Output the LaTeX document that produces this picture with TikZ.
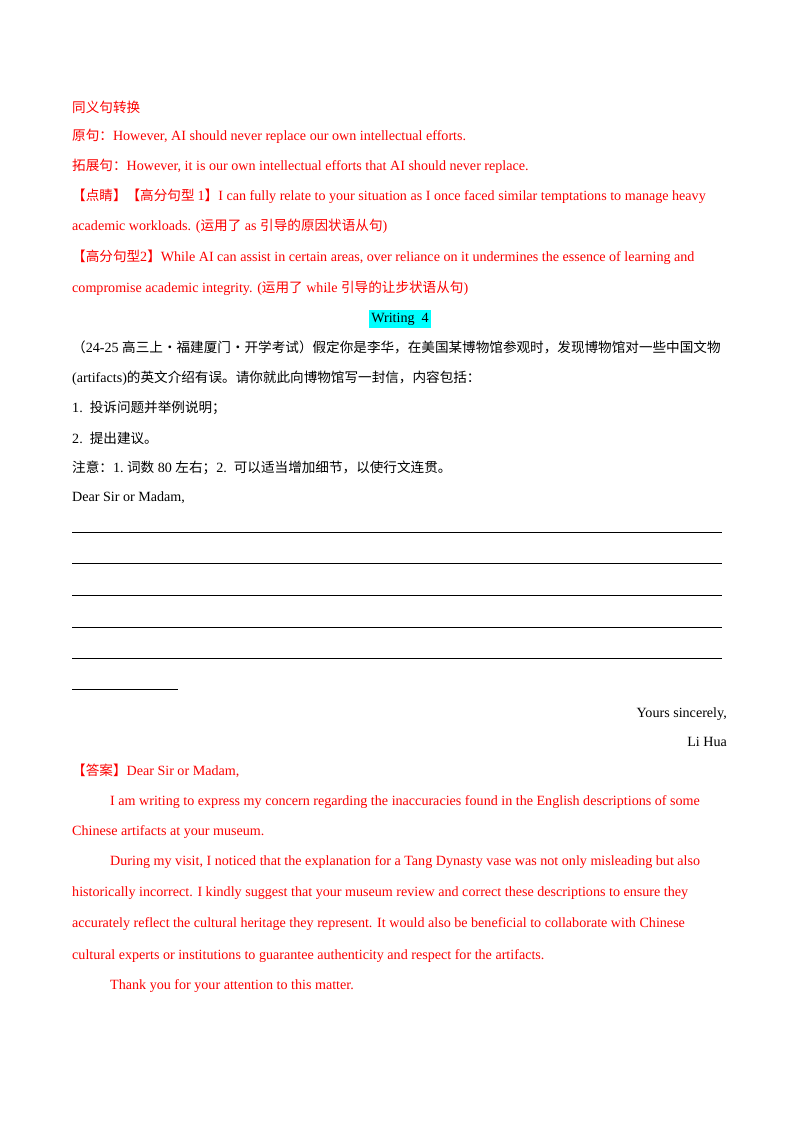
\documentclass[tikz,border=0pt]{standalone}
\usepackage{fontspec}
\setmainfont{Liberation Serif}
\newfontfamily\cjk{Noto Sans CJK SC}
\definecolor{rd}{RGB}{250,0,0}
\definecolor{hl}{RGB}{0,255,255}
\newcommand{\zh}[1]{{\cjk\fontsize{13.6}{15}\selectfont #1}}
\begin{document}
\begin{tikzpicture}[x=1pt,y=-1pt,
  t/.style={anchor=base west,inner sep=0pt,font=\fontsize{14.1}{16}\selectfont},
  r/.style={t,text=rd},
  ln/.style={line width=0.6pt}]
\useasboundingbox (0,0) rectangle (800,1132);
\node[r] (a1) at (72,112) {\zh{同义句转换}};
\node[r] (a2) at (72,140) {\zh{原句：}However, AI should never replace our own intellectual efforts.};
\node[r] (a3) at (72,170) {\zh{拓展句：}However, it is our own intellectual efforts that AI should never replace.};
\node[r] (a4) at (72,200) {\zh{【点睛】【高分句型 }1\zh{】}I can fully relate to your situation as I once faced similar temptations to manage heavy};
\node[r] (a5) at (72,230) {academic workloads. (\zh{运用了} as \zh{引导的原因状语从句})};
\node[r] (a6) at (72,261) {\zh{【高分句型}2\zh{】}While AI can assist in certain areas, over reliance on it undermines the essence of learning and};
\node[r] (a7) at (72,292) {compromise academic integrity. (\zh{运用了} while \zh{引导的让步状语从句})};
\node[t,fill=hl,inner xsep=2pt,inner ysep=3pt,anchor=base] (w) at (400,322) {Writing\ \ 4};
\node[t] (b1) at (72,352) {\zh{（}24-25 \zh{高三上·福建厦门·开学考试）假定你是李华，在美国某博物馆参观时，发现博物馆对一些中国文物}};
\node[t] (b2) at (72,382) {(artifacts)\zh{的英文介绍有误。请你就此向博物馆写一封信，内容包括：}};
\node[t] (b3) at (72,412) {1.\ \ \zh{投诉问题并举例说明；}};
\node[t] (b4) at (72,443) {2.\ \ \zh{提出建议。}};
\node[t] (b5) at (72,472) {\zh{注意：}1.\ \zh{词数} 80 \zh{左右；}2.\ \ \zh{可以适当增加细节，以使行文连贯。}};
\node[t] (b6) at (72,501) {Dear Sir or Madam,};
\foreach \y in {532,563,595,627,658} \draw[ln] (72,\y) -- (722,\y);
\draw[ln] (72,689) -- (178,689);
\node[t,anchor=base east] (ys) at (727,717) {Yours sincerely,};
\node[t,anchor=base east] (lh) at (727,746) {Li Hua};
\node[r] (c1) at (72,775) {\zh{【答案】}Dear Sir or Madam,};
\node[r] (c2) at (110,805) {I am writing to express my concern regarding the inaccuracies found in the English descriptions of some};
\node[r] (c3) at (72,835) {Chinese artifacts at your museum.};
\node[r] (c4) at (110,865) {During my visit, I noticed that the explanation for a Tang Dynasty vase was not only misleading but also};
\node[r] (c5) at (72,896) {historically incorrect. I kindly suggest that your museum review and correct these descriptions to ensure they};
\node[r] (c6) at (72,927) {accurately reflect the cultural heritage they represent. It would also be beneficial to collaborate with Chinese};
\node[r] (c7) at (72,959) {cultural experts or institutions to guarantee authenticity and respect for the artifacts.};
\node[r] (c8) at (110,989) {Thank you for your attention to this matter.};
\end{tikzpicture}
\end{document}
